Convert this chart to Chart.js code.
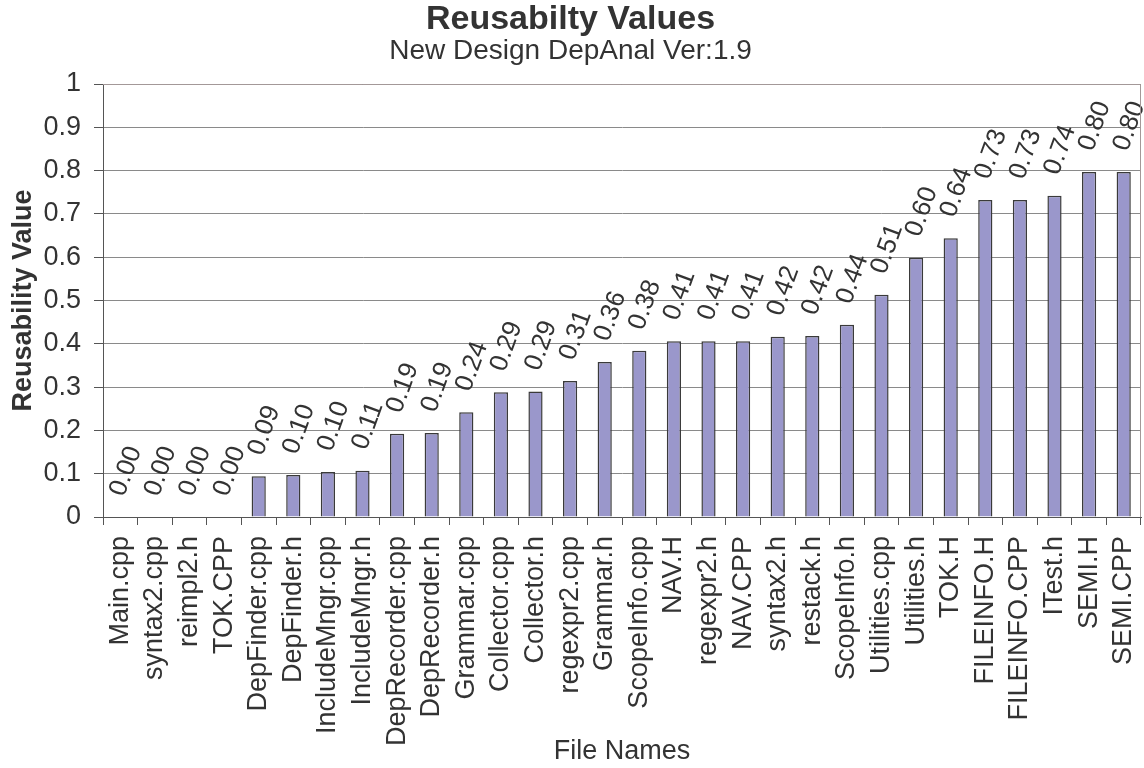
<!DOCTYPE html>
<html>
<head>
<meta charset="utf-8">
<title>Reusabilty Values</title>
<script src="https://cdn.jsdelivr.net/npm/chart.js@4/dist/chart.umd.min.js"></script>
<style>
  body { margin: 0; background: #fff; }
  #wrap { width: 1144px; height: 768px; }
</style>
</head>
<body>
<div id="wrap"><canvas id="grafikon" width="1144" height="768"></canvas></div>
<script>
// file names along the x axis
const fileNames = ['Main.cpp', 'syntax2.cpp', 'reimpl2.h', 'TOK.CPP', 'DepFinder.cpp', 'DepFinder.h',
    'IncludeMngr.cpp', 'IncludeMngr.h', 'DepRecorder.cpp', 'DepRecorder.h', 'Grammar.cpp', 'Collector.cpp',
    'Collector.h', 'regexpr2.cpp', 'Grammar.h', 'ScopeInfo.cpp', 'NAV.H', 'regexpr2.h', 'NAV.CPP',
    'syntax2.h', 'restack.h', 'ScopeInfo.h', 'Utilities.cpp', 'Utilities.h', 'TOK.H', 'FILEINFO.H',
    'FILEINFO.CPP', 'ITest.h', 'SEMI.H', 'SEMI.CPP'];

// reusability per file
const reuseValues = [0, 0, 0, 0, 0.094, 0.097, 0.104, 0.107, 0.192, 0.194, 0.242, 0.288, 0.290, 0.314,
    0.358, 0.384, 0.406, 0.406, 0.406, 0.416, 0.418, 0.444, 0.513, 0.599, 0.644, 0.732, 0.732, 0.742,
    0.797, 0.797];

const yTicks = [0, 0.1, 0.2, 0.3, 0.4, 0.5, 0.6, 0.7, 0.8, 0.9, 1];

const font = '"Liberation Sans", Arial, sans-serif';
const textColor = '#333333';

// rotated value labels above every bar
const valueLabels = {
    id: 'valueLabels',
    afterDatasetsDraw(chart) {
        const ctx = chart.ctx;
        const meta = chart.getDatasetMeta(0);
        ctx.save();
        ctx.font = '26px ' + font;
        ctx.fillStyle = textColor;
        ctx.textAlign = 'left';
        ctx.textBaseline = 'middle';
        meta.data.forEach((bar, i) => {
            ctx.save();
            ctx.translate(bar.x - 3, bar.y - 22);
            ctx.rotate(-70 * Math.PI / 180);
            ctx.fillText(reuseValues[i].toFixed(2), 0, 0);
            ctx.restore();
        });
        ctx.restore();
    }
};

// top and right edge of the plot box
const plotFrame = {
    id: 'plotFrame',
    afterDraw(chart) {
        const a = chart.chartArea;
        const ctx = chart.ctx;
        ctx.save();
        ctx.strokeStyle = '#a39898';
        ctx.lineWidth = 1;
        ctx.beginPath();
        ctx.moveTo(a.left, a.top + 0.5);
        ctx.lineTo(a.right - 0.5, a.top + 0.5);
        ctx.lineTo(a.right - 0.5, a.bottom);
        ctx.stroke();
        ctx.restore();
    }
};

var ctx = document.getElementById('grafikon').getContext('2d');

var myChart = new Chart(ctx, {
    type: 'bar',
    data: {
        labels: fileNames,
        datasets: [{
            data: reuseValues,
            backgroundColor: '#9a97cb',
            borderColor: '#3a3a3a',
            borderWidth: 1.5,
            barPercentage: 0.41,
            categoryPercentage: 1
        }]
    },
    options: {
        responsive: false,
        animation: false,
        layout: { padding: { left: 0, right: 3, top: 0, bottom: 0 } },
        plugins: {
            legend: { display: false },
            tooltip: { enabled: false },
            title: {
                display: true,
                text: 'Reusabilty Values',
                color: textColor,
                font: { family: font, size: 34, weight: 'bold', lineHeight: 1 },
                padding: { top: 3, bottom: 0 }
            },
            subtitle: {
                display: true,
                text: 'New Design DepAnal Ver:1.9',
                color: textColor,
                font: { family: font, size: 28, lineHeight: 1 },
                padding: { top: 0, bottom: 19 }
            }
        },
        scales: {
            x: {
                afterFit: s => {
                    s.height = 251;
                    s.paddingLeft = 0;
                    s.paddingRight = 0;
                },
                grid: {
                    display: true,
                    drawOnChartArea: false,
                    offset: true,
                    tickLength: 8,
                    color: '#555555'
                },
                border: { display: true, color: '#555555', width: 1 },
                ticks: {
                    autoSkip: false,
                    minRotation: 90,
                    maxRotation: 90,
                    padding: 11,
                    color: textColor,
                    font: { family: font, size: 27 }
                },
                title: {
                    display: true,
                    text: 'File Names',
                    color: textColor,
                    font: { family: font, size: 27, lineHeight: 1.2 },
                    padding: { top: 0, bottom: 0 }
                }
            },
            y: {
                min: 0,
                max: 1,
                afterFit: s => { s.width = 103; },
                afterBuildTicks: s => { s.ticks = yTicks.map(v => ({ value: v })); },
                grid: {
                    color: '#8a8a8a',
                    lineWidth: 1,
                    tickLength: 9,
                    tickColor: '#555555'
                },
                border: { display: true, color: '#555555', width: 1 },
                ticks: {
                    padding: 13,
                    color: textColor,
                    font: { family: font, size: 27 },
                    callback: v => String(Math.round(v * 10) / 10)
                },
                title: {
                    display: true,
                    text: 'Reusability Value',
                    color: textColor,
                    font: { family: font, size: 27, weight: 'bold', lineHeight: 1.2 },
                    padding: { top: 7, bottom: 0 }
                }
            }
        }
    },
    plugins: [valueLabels, plotFrame]
});
</script>
</body>
</html>
